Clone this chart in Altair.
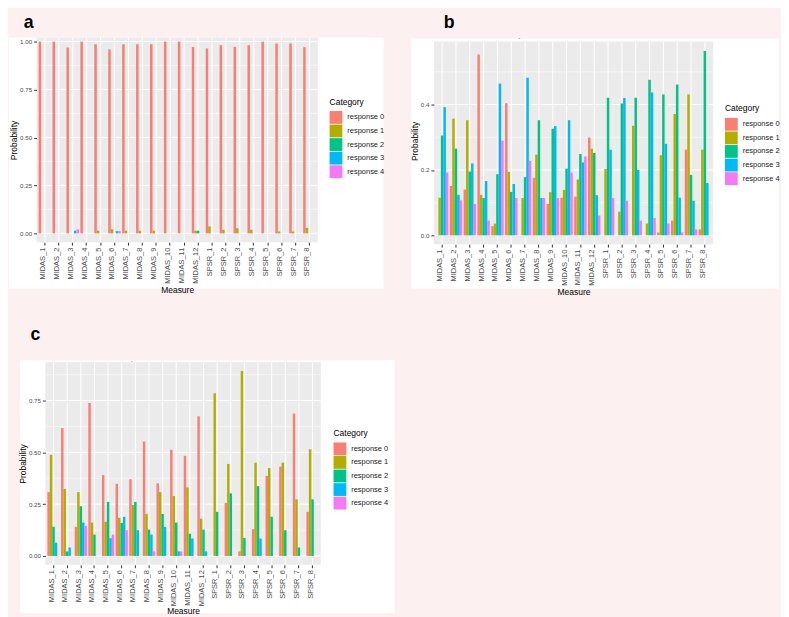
import altair as alt
import pandas as pd

measures = [f"MIDAS_{i}" for i in range(1, 13)] + [f"SPSR_{i}" for i in range(1, 9)]
cats = ["response 0", "response 1", "response 2", "response 3", "response 4"]
colors = ["#FA7E72", "#B3AD00", "#00C387", "#00B9F8", "#F578F7"]

# Panel a values (per response, in measure order)
a_r0 = [1.00, 1.00, 0.969, 1.00, 0.986, 0.959, 0.986, 0.986, 0.986, 1.00, 1.00, 0.972, 0.964, 0.981, 0.973, 0.981, 1.00, 0.99, 0.99, 0.971]
a_r1 = [0, 0, 0, 0, 0.014, 0.022, 0.014, 0.014, 0.014, 0, 0, 0.014, 0.036, 0.019, 0.027, 0.019, 0, 0.01, 0.01, 0.029]
a_r2 = [0, 0, 0, 0, 0, 0, 0, 0, 0, 0, 0, 0.014, 0, 0, 0, 0, 0, 0, 0, 0]
a_r3 = [0, 0, 0.014, 0, 0, 0.012, 0, 0, 0, 0, 0, 0, 0, 0, 0, 0, 0, 0, 0, 0]
a_r4 = [0, 0, 0.021, 0, 0, 0.012, 0, 0, 0, 0, 0, 0, 0, 0, 0, 0, 0, 0, 0, 0]

# Panel b values
b_r0 = [0, 0.151, 0.140, 0.553, 0.028, 0.404, 0, 0.176, 0.096, 0.115, 0.118, 0.299, 0, 0, 0, 0, 0.009, 0.045, 0.262, 0.018]
b_r1 = [0.115, 0.357, 0.352, 0.124, 0.036, 0.194, 0.114, 0.247, 0.132, 0.139, 0.171, 0.265, 0.203, 0.072, 0.335, 0.036, 0.245, 0.371, 0.431, 0.262]
b_r2 = [0.305, 0.265, 0.195, 0.114, 0.187, 0.133, 0.178, 0.352, 0.326, 0.204, 0.249, 0.252, 0.421, 0.403, 0.421, 0.476, 0.431, 0.461, 0.185, 0.564]
b_r3 = [0.392, 0.124, 0.220, 0.166, 0.464, 0.157, 0.482, 0.114, 0.334, 0.352, 0.223, 0.123, 0.262, 0.420, 0.200, 0.437, 0.280, 0.115, 0.106, 0.160]
b_r4 = [0.192, 0.107, 0.096, 0.045, 0.289, 0.114, 0.228, 0.114, 0.114, 0.192, 0.241, 0.061, 0.114, 0.106, 0.045, 0.053, 0.036, 0.009, 0.018, 0]

# Panel c values
c_r0 = [0.308, 0.617, 0.141, 0.738, 0.390, 0.348, 0.370, 0.552, 0.351, 0.512, 0.483, 0.674, 0, 0.256, 0.022, 0.129, 0.386, 0.431, 0.687, 0.213]
c_r1 = [0.488, 0.323, 0.308, 0.161, 0.165, 0.184, 0.246, 0.203, 0.308, 0.289, 0.331, 0.180, 0.785, 0.444, 0.893, 0.450, 0.424, 0.450, 0.273, 0.515]
c_r2 = [0.141, 0.022, 0.240, 0.103, 0.261, 0.159, 0.261, 0.127, 0.203, 0.161, 0.107, 0.127, 0.213, 0.302, 0.087, 0.337, 0.189, 0.124, 0.041, 0.273]
c_r3 = [0.064, 0.041, 0.161, 0, 0.086, 0.189, 0.124, 0.103, 0.140, 0.022, 0.084, 0.022, 0, 0, 0, 0.084, 0, 0, 0, 0]
c_r4 = [0, 0, 0.145, 0, 0.103, 0.124, 0, 0.022, 0, 0.022, 0, 0, 0, 0, 0, 0, 0, 0, 0, 0]

PINK = "#FDF0F0"
FONT = "Liberation Sans"


def long_df(series):
    rows = []
    for cat, vals in zip(cats, series):
        for m, v in zip(measures, vals):
            rows.append({"Measure": m, "Category": cat, "Probability": v})
    return pd.DataFrame(rows)


one = pd.DataFrame({"k": [0]})


def panel(series, letter, w, h, ydom, major, minor, fmt, frame, white, letter_pos, leg_pos,
          x0=0, y0=0, title_pad=2, dot=None):
    """w, h: group size; x0: left inset of the plot area; y0: top inset of the plot area."""
    df = long_df(series)
    xscale = alt.Scale(paddingInner=0.1, paddingOuter=0.15, range=[x0, w])
    yscale = alt.Scale(domain=ydom, nice=False, zero=False)
    xaxis = alt.Axis(title="Measure", labelAngle=270, labelAlign="right", labelBaseline="middle",
                     labelOffset=-2, labelFontSize=7.6, labelColor="#4D4D4D", labelPadding=2,
                     labelFont=FONT, labelOverlap=False, tickColor="#333333", tickSize=3, tickWidth=1,
                     domain=False, grid=False, titleFontSize=8.6, titleFontWeight="normal",
                     titleColor="black", titleFont=FONT, titlePadding=title_pad, zindex=1)
    yaxis = alt.Axis(title="Probability", values=major, format=fmt, labelFontSize=6.3,
                     labelColor="#4D4D4D", labelPadding=2, labelFont=FONT, tickColor="#333333",
                     tickSize=3, tickWidth=1, domain=False, grid=False, titleFontSize=8.6,
                     titleFontWeight="normal", titleColor="black", titleFont=FONT, titlePadding=1,
                     offset=-x0, zindex=1)
    fx1, fx2, fy1, fy2 = frame
    wx1, wx2, wy1, wy2 = white
    frame_l = alt.Chart(one).mark_rect(color=PINK).encode(
        x=alt.value(fx1), x2=alt.value(fx2), y=alt.value(fy1), y2=alt.value(fy2))
    white_l = alt.Chart(one).mark_rect(color="white").encode(
        x=alt.value(wx1), x2=alt.value(wx2), y=alt.value(wy1), y2=alt.value(wy2))
    gray_l = alt.Chart(one).mark_rect(color="#EBEBEB").encode(
        x=alt.value(x0), x2=alt.value(w), y=alt.value(y0), y2=alt.value(h))
    minor_l = alt.Chart(pd.DataFrame({"Probability": minor})).mark_rule(color="white", strokeWidth=0.5).encode(
        y=alt.Y("Probability:Q", scale=yscale, axis=yaxis), x=alt.value(x0), x2=alt.value(w))
    major_l = alt.Chart(pd.DataFrame({"Probability": major})).mark_rule(color="white", strokeWidth=1).encode(
        y=alt.Y("Probability:Q", scale=yscale, axis=yaxis), x=alt.value(x0), x2=alt.value(w))
    vert_l = alt.Chart(pd.DataFrame({"Measure": measures})).mark_rule(color="white", strokeWidth=1).encode(
        x=alt.X("Measure:N", sort=measures, scale=xscale, axis=xaxis), y=alt.value(y0), y2=alt.value(h))
    bars = alt.Chart(df).mark_bar().encode(
        x=alt.X("Measure:N", sort=measures, scale=xscale, axis=xaxis),
        xOffset=alt.XOffset("Category:N", sort=cats, scale=alt.Scale(paddingInner=0, paddingOuter=0)),
        y=alt.Y("Probability:Q", scale=yscale, axis=yaxis),
        color=alt.Color("Category:N", sort=cats, scale=alt.Scale(domain=cats, range=colors),
                        legend=alt.Legend(title="Category", orient="none", direction="vertical",
                                          legendX=leg_pos[0], legendY=leg_pos[1], padding=0,
                                          symbolType="square", symbolSize=169, symbolStrokeWidth=0,
                                          rowPadding=0.8, labelOffset=5, labelFontSize=7.6,
                                          labelColor="#222222", labelFont=FONT, titleFont=FONT,
                                          titleFontSize=8.6, titleFontWeight="normal",
                                          titleColor="black", titlePadding=5)),
    )
    text_l = alt.Chart(one).mark_text(fontSize=18, fontWeight="bold", font=FONT, align="left",
                                      baseline="alphabetic", color="black").encode(
        x=alt.value(letter_pos[0]), y=alt.value(letter_pos[1]), text=alt.value(letter))
    layers = [frame_l, white_l, gray_l, minor_l, major_l, vert_l, bars, text_l]
    if dot is not None:
        layers.append(alt.Chart(one).mark_text(fontSize=7, font=FONT, align="center",
                                               baseline="alphabetic", color="#555555").encode(
            x=alt.value(dot[0]), y=alt.value(dot[1]), text=alt.value(".")))
    return alt.layer(*layers).properties(width=w, height=h)


# group origins (page px): a (36, 32), b (438, 32), c (36, 360)
pa = panel([a_r0, a_r1, a_r2, a_r3, a_r4], "a", 286, 208, [-0.046, 1.0205],
           [0, 0.25, 0.5, 0.75, 1.0], [0.125, 0.375, 0.625, 0.875], ".2f",
           (-28, 366, -24, 288), (-28, 353, 0, 255), (-13, -10), (298, 61))
pb = panel([b_r0, b_r1, b_r2, b_r3, b_r4], "b", 284, 210, [-0.027, 0.6045],
           [0, 0.2, 0.4], [0.1, 0.3, 0.5], ".1f",
           (-36, 351, -24, 288), (-23, 351, 1, 255), (10, -10), (296, 68), y0=4, dot=(87, 1))
pc = panel([c_r0, c_r1, c_r2, c_r3, c_r4], "c", 289, 206, [-0.0427, 0.935],
           [0, 0.25, 0.5, 0.75], [0.125, 0.375, 0.625, 0.875], ".2f",
           (-28, 364, -40, 257), (-17, 364, -2, 255), (-6, -23), (302, 68), x0=9, title_pad=1,
           dot=(97, 0))

top = alt.hconcat(pa, pb, spacing=0).resolve_scale(
    color="independent", xOffset="independent").resolve_legend(color="independent")
chart = alt.vconcat(top, pc, spacing=0).resolve_scale(
    color="independent", xOffset="independent").resolve_legend(color="independent").properties(
    background=PINK, padding=0).configure(font=FONT).configure_view(stroke="transparent")

chart.save("out.html", embed_options={"renderer": "svg", "actions": False})
